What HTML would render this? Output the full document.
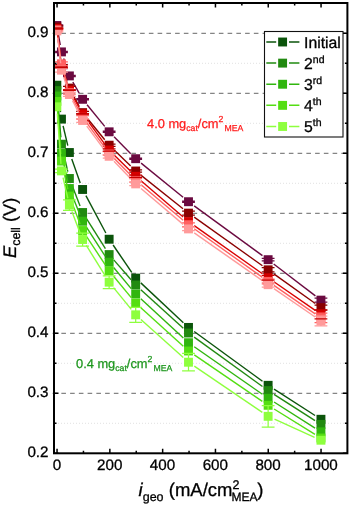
<!DOCTYPE html>
<html><head><meta charset="utf-8"><title>Polarization curves</title>
<style>html,body{margin:0;padding:0;background:#fff}body{width:350px;height:506px;overflow:hidden}</style></head>
<body>
<svg width="350" height="506" viewBox="0 0 350 506" style="display:block" text-rendering="geometricPrecision">
<rect width="350" height="506" fill="#fff"/>
<line x1="52.6" y1="393.3" x2="346.4" y2="393.3" stroke="#858585" stroke-width="1.25" stroke-dasharray="4.6 4.15"/>
<line x1="52.6" y1="333.3" x2="346.4" y2="333.3" stroke="#858585" stroke-width="1.25" stroke-dasharray="4.6 4.15"/>
<line x1="52.6" y1="273.3" x2="346.4" y2="273.3" stroke="#858585" stroke-width="1.25" stroke-dasharray="4.6 4.15"/>
<line x1="52.6" y1="213.3" x2="346.4" y2="213.3" stroke="#858585" stroke-width="1.25" stroke-dasharray="4.6 4.15"/>
<line x1="52.6" y1="153.3" x2="346.4" y2="153.3" stroke="#858585" stroke-width="1.25" stroke-dasharray="4.6 4.15"/>
<line x1="52.6" y1="93.3" x2="346.4" y2="93.3" stroke="#858585" stroke-width="1.25" stroke-dasharray="4.6 4.15"/>
<line x1="52.6" y1="33.3" x2="346.4" y2="33.3" stroke="#858585" stroke-width="1.25" stroke-dasharray="4.6 4.15"/>
<line x1="55.0" y1="423.3" x2="346.4" y2="423.3" stroke="#e2e2e2" stroke-width="1" stroke-dasharray="1 2"/>
<line x1="55.0" y1="363.3" x2="346.4" y2="363.3" stroke="#e2e2e2" stroke-width="1" stroke-dasharray="1 2"/>
<line x1="55.0" y1="303.3" x2="346.4" y2="303.3" stroke="#e2e2e2" stroke-width="1" stroke-dasharray="1 2"/>
<line x1="55.0" y1="243.3" x2="346.4" y2="243.3" stroke="#e2e2e2" stroke-width="1" stroke-dasharray="1 2"/>
<line x1="55.0" y1="183.3" x2="346.4" y2="183.3" stroke="#e2e2e2" stroke-width="1" stroke-dasharray="1 2"/>
<line x1="55.0" y1="123.3" x2="346.4" y2="123.3" stroke="#e2e2e2" stroke-width="1" stroke-dasharray="1 2"/>
<line x1="55.0" y1="63.3" x2="346.4" y2="63.3" stroke="#e2e2e2" stroke-width="1" stroke-dasharray="1 2"/>
<line x1="55.0" y1="3.3" x2="346.4" y2="3.3" stroke="#e2e2e2" stroke-width="1" stroke-dasharray="1 2"/>
<path d="M57.05 453.30v-4.50M57.05 3.00v4.50M83.45 453.30v-2.50M83.45 3.00v2.50M109.85 453.30v-4.50M109.85 3.00v4.50M136.25 453.30v-2.50M136.25 3.00v2.50M162.65 453.30v-4.50M162.65 3.00v4.50M189.05 453.30v-2.50M189.05 3.00v2.50M215.45 453.30v-4.50M215.45 3.00v4.50M241.85 453.30v-2.50M241.85 3.00v2.50M268.25 453.30v-4.50M268.25 3.00v4.50M294.65 453.30v-2.50M294.65 3.00v2.50M321.05 453.30v-4.50M321.05 3.00v4.50M54.00 453.30h4.50M347.40 453.30h-4.50M54.00 423.30h2.50M347.40 423.30h-2.50M54.00 393.30h4.50M347.40 393.30h-4.50M54.00 363.30h2.50M347.40 363.30h-2.50M54.00 333.30h4.50M347.40 333.30h-4.50M54.00 303.30h2.50M347.40 303.30h-2.50M54.00 273.30h4.50M347.40 273.30h-4.50M54.00 243.30h2.50M347.40 243.30h-2.50M54.00 213.30h4.50M347.40 213.30h-4.50M54.00 183.30h2.50M347.40 183.30h-2.50M54.00 153.30h4.50M347.40 153.30h-4.50M54.00 123.30h2.50M347.40 123.30h-2.50M54.00 93.30h4.50M347.40 93.30h-4.50M54.00 63.30h2.50M347.40 63.30h-2.50M54.00 33.30h4.50M347.40 33.30h-4.50" stroke="#000" stroke-width="1.5" fill="none"/>
<defs><clipPath id="pc"><rect x="54.0" y="3.0" width="293.4" height="450.3"/></clipPath></defs><g clip-path="url(#pc)">
<line x1="57.80" y1="92.14" x2="60.53" y2="112.16" stroke="#0b540b" stroke-width="1.40"/>
<line x1="63.09" y1="125.91" x2="67.78" y2="145.71" stroke="#0b540b" stroke-width="1.40"/>
<line x1="71.75" y1="159.11" x2="80.24" y2="182.89" stroke="#0b540b" stroke-width="1.40"/>
<line x1="85.90" y1="195.66" x2="105.85" y2="233.04" stroke="#0b540b" stroke-width="1.40"/>
<line x1="113.09" y1="245.00" x2="131.74" y2="272.32" stroke="#0b540b" stroke-width="1.40"/>
<line x1="140.80" y1="282.88" x2="183.39" y2="322.64" stroke="#0b540b" stroke-width="1.40"/>
<line x1="194.17" y1="331.54" x2="262.47" y2="381.20" stroke="#0b540b" stroke-width="1.40"/>
<line x1="274.02" y1="389.11" x2="315.06" y2="415.49" stroke="#0b540b" stroke-width="1.40"/>
<rect x="52.40" y="80.75" width="8.90" height="8.90" fill="#0b540b"/>
<rect x="57.02" y="114.65" width="8.90" height="8.90" fill="#0b540b"/>
<rect x="64.94" y="148.07" width="8.90" height="8.90" fill="#0b540b"/>
<rect x="78.15" y="185.03" width="8.90" height="8.90" fill="#0b540b"/>
<rect x="104.69" y="234.77" width="8.90" height="8.90" fill="#0b540b"/>
<rect x="131.23" y="273.65" width="8.90" height="8.90" fill="#0b540b"/>
<rect x="184.05" y="322.97" width="8.90" height="8.90" fill="#0b540b"/>
<rect x="263.68" y="380.87" width="8.90" height="8.90" fill="#0b540b"/>
<rect x="316.50" y="414.83" width="8.90" height="8.90" fill="#0b540b"/>
<line x1="57.45" y1="97.57" x2="60.87" y2="137.21" stroke="#218a10" stroke-width="1.40"/>
<line x1="63.05" y1="151.00" x2="67.82" y2="171.68" stroke="#218a10" stroke-width="1.40"/>
<line x1="71.93" y1="185.03" x2="80.07" y2="205.99" stroke="#218a10" stroke-width="1.40"/>
<line x1="86.34" y1="218.44" x2="105.41" y2="248.66" stroke="#218a10" stroke-width="1.40"/>
<line x1="113.74" y1="259.85" x2="131.08" y2="279.73" stroke="#218a10" stroke-width="1.40"/>
<line x1="140.86" y1="289.71" x2="183.32" y2="328.29" stroke="#218a10" stroke-width="1.40"/>
<line x1="194.18" y1="337.10" x2="262.46" y2="386.50" stroke="#218a10" stroke-width="1.40"/>
<line x1="274.03" y1="394.37" x2="315.05" y2="420.61" stroke="#218a10" stroke-width="1.40"/>
<rect x="52.40" y="86.15" width="8.90" height="8.90" fill="#218a10"/>
<rect x="57.02" y="139.73" width="8.90" height="8.90" fill="#218a10"/>
<rect x="64.94" y="174.05" width="8.90" height="8.90" fill="#218a10"/>
<rect x="78.15" y="208.07" width="8.90" height="8.90" fill="#218a10"/>
<rect x="104.69" y="250.13" width="8.90" height="8.90" fill="#218a10"/>
<rect x="131.23" y="280.55" width="8.90" height="8.90" fill="#218a10"/>
<rect x="184.05" y="328.55" width="8.90" height="8.90" fill="#218a10"/>
<rect x="263.68" y="386.15" width="8.90" height="8.90" fill="#218a10"/>
<rect x="316.50" y="419.93" width="8.90" height="8.90" fill="#218a10"/>
<line x1="57.41" y1="102.98" x2="60.91" y2="146.44" stroke="#30b60e" stroke-width="1.40"/>
<line x1="63.01" y1="160.25" x2="67.85" y2="181.69" stroke="#30b60e" stroke-width="1.40"/>
<line x1="72.01" y1="195.01" x2="79.98" y2="214.79" stroke="#30b60e" stroke-width="1.40"/>
<line x1="86.41" y1="227.15" x2="105.33" y2="256.33" stroke="#30b60e" stroke-width="1.40"/>
<line x1="113.63" y1="267.57" x2="131.20" y2="288.63" stroke="#30b60e" stroke-width="1.40"/>
<line x1="140.83" y1="298.75" x2="183.36" y2="337.97" stroke="#30b60e" stroke-width="1.40"/>
<line x1="194.24" y1="346.73" x2="262.39" y2="394.27" stroke="#30b60e" stroke-width="1.40"/>
<line x1="274.04" y1="402.03" x2="315.04" y2="428.07" stroke="#30b60e" stroke-width="1.40"/>
<rect x="52.40" y="91.55" width="8.90" height="8.90" fill="#30b60e"/>
<rect x="57.02" y="148.97" width="8.90" height="8.90" fill="#30b60e"/>
<rect x="64.94" y="184.07" width="8.90" height="8.90" fill="#30b60e"/>
<rect x="78.15" y="216.83" width="8.90" height="8.90" fill="#30b60e"/>
<rect x="104.69" y="257.75" width="8.90" height="8.90" fill="#30b60e"/>
<rect x="131.23" y="289.55" width="8.90" height="8.90" fill="#30b60e"/>
<rect x="184.05" y="338.27" width="8.90" height="8.90" fill="#30b60e"/>
<rect x="263.68" y="393.83" width="8.90" height="8.90" fill="#30b60e"/>
<rect x="316.50" y="427.37" width="8.90" height="8.90" fill="#30b60e"/>
<line x1="57.39" y1="108.38" x2="60.93" y2="154.12" stroke="#54de12" stroke-width="1.40"/>
<line x1="63.02" y1="167.93" x2="67.85" y2="189.25" stroke="#54de12" stroke-width="1.40"/>
<line x1="71.90" y1="202.62" x2="80.09" y2="223.98" stroke="#54de12" stroke-width="1.40"/>
<line x1="86.45" y1="236.36" x2="105.29" y2="264.94" stroke="#54de12" stroke-width="1.40"/>
<line x1="113.59" y1="276.18" x2="131.23" y2="297.60" stroke="#54de12" stroke-width="1.40"/>
<line x1="140.86" y1="307.71" x2="183.32" y2="346.29" stroke="#54de12" stroke-width="1.40"/>
<line x1="194.29" y1="354.94" x2="262.35" y2="401.36" stroke="#54de12" stroke-width="1.40"/>
<line x1="274.08" y1="408.98" x2="315.00" y2="434.32" stroke="#54de12" stroke-width="1.40"/>
<rect x="52.40" y="96.95" width="8.90" height="8.90" fill="#54de12"/>
<rect x="57.02" y="156.65" width="8.90" height="8.90" fill="#54de12"/>
<rect x="64.94" y="191.63" width="8.90" height="8.90" fill="#54de12"/>
<rect x="78.15" y="226.07" width="8.90" height="8.90" fill="#54de12"/>
<rect x="104.69" y="266.33" width="8.90" height="8.90" fill="#54de12"/>
<rect x="131.23" y="298.55" width="8.90" height="8.90" fill="#54de12"/>
<rect x="184.05" y="346.55" width="8.90" height="8.90" fill="#54de12"/>
<rect x="263.68" y="400.85" width="8.90" height="8.90" fill="#54de12"/>
<rect x="316.50" y="433.55" width="8.90" height="8.90" fill="#54de12"/>
<line x1="57.35" y1="113.78" x2="60.97" y2="163.90" stroke="#8eff3e" stroke-width="1.40"/>
<line x1="63.05" y1="177.70" x2="67.81" y2="198.26" stroke="#8eff3e" stroke-width="1.40"/>
<line x1="71.90" y1="211.62" x2="80.09" y2="232.98" stroke="#8eff3e" stroke-width="1.40"/>
<line x1="86.30" y1="245.46" x2="105.44" y2="276.24" stroke="#8eff3e" stroke-width="1.40"/>
<line x1="113.56" y1="287.61" x2="131.27" y2="309.39" stroke="#8eff3e" stroke-width="1.40"/>
<line x1="140.89" y1="319.50" x2="183.29" y2="357.54" stroke="#8eff3e" stroke-width="1.40"/>
<line x1="194.29" y1="366.15" x2="262.34" y2="412.41" stroke="#8eff3e" stroke-width="1.40"/>
<line x1="274.51" y1="419.22" x2="314.57" y2="437.34" stroke="#8eff3e" stroke-width="1.40"/>
<rect x="52.40" y="102.35" width="8.90" height="8.90" fill="#8eff3e"/>
<rect x="57.02" y="166.43" width="8.90" height="8.90" fill="#8eff3e"/>
<rect x="64.94" y="200.63" width="8.90" height="8.90" fill="#8eff3e"/>
<rect x="78.15" y="235.07" width="8.90" height="8.90" fill="#8eff3e"/>
<rect x="104.69" y="277.73" width="8.90" height="8.90" fill="#8eff3e"/>
<rect x="131.23" y="310.37" width="8.90" height="8.90" fill="#8eff3e"/>
<rect x="184.05" y="357.77" width="8.90" height="8.90" fill="#8eff3e"/>
<rect x="263.68" y="411.89" width="8.90" height="8.90" fill="#8eff3e"/>
<rect x="316.50" y="435.77" width="8.90" height="8.90" fill="#8eff3e"/>




<path d="M61.47 169.08V172.68M55.07 169.08H67.87M55.07 172.68H67.87" stroke="#8eff3e" stroke-width="1.25" fill="none"/>
<path d="M69.39 199.80V210.36M62.99 199.80H75.79M62.99 210.36H75.79" stroke="#8eff3e" stroke-width="1.25" fill="none"/>
<path d="M82.60 233.04V246.00M76.20 233.04H89.00M76.20 246.00H89.00" stroke="#8eff3e" stroke-width="1.25" fill="none"/>
<path d="M109.14 275.76V288.60M102.74 275.76H115.54M102.74 288.60H115.54" stroke="#8eff3e" stroke-width="1.25" fill="none"/>
<path d="M135.68 307.32V322.32M129.28 307.32H142.08M129.28 322.32H142.08" stroke="#8eff3e" stroke-width="1.25" fill="none"/>
<path d="M188.50 353.46V370.98M182.10 353.46H194.90M182.10 370.98H194.90" stroke="#8eff3e" stroke-width="1.25" fill="none"/>
<path d="M268.13 405.66V427.02M261.73 405.66H274.53M261.73 427.02H274.53" stroke="#8eff3e" stroke-width="1.25" fill="none"/>
<line x1="58.06" y1="32.40" x2="60.26" y2="45.00" stroke="#6b0a40" stroke-width="1.40"/>
<line x1="63.67" y1="58.55" x2="67.20" y2="69.25" stroke="#6b0a40" stroke-width="1.40"/>
<line x1="72.83" y1="82.00" x2="79.16" y2="93.20" stroke="#6b0a40" stroke-width="1.40"/>
<line x1="87.03" y1="104.72" x2="104.72" y2="126.40" stroke="#6b0a40" stroke-width="1.40"/>
<line x1="114.06" y1="136.80" x2="130.77" y2="153.72" stroke="#6b0a40" stroke-width="1.40"/>
<line x1="141.11" y1="163.12" x2="183.08" y2="197.30" stroke="#6b0a40" stroke-width="1.40"/>
<line x1="194.16" y1="205.84" x2="262.47" y2="255.56" stroke="#6b0a40" stroke-width="1.40"/>
<line x1="273.69" y1="263.94" x2="315.39" y2="295.86" stroke="#6b0a40" stroke-width="1.40"/>
<rect x="52.40" y="21.05" width="8.90" height="8.90" fill="#6b0a40"/>
<rect x="57.02" y="47.45" width="8.90" height="8.90" fill="#6b0a40"/>
<rect x="64.94" y="71.45" width="8.90" height="8.90" fill="#6b0a40"/>
<rect x="78.15" y="94.85" width="8.90" height="8.90" fill="#6b0a40"/>
<rect x="104.69" y="127.37" width="8.90" height="8.90" fill="#6b0a40"/>
<rect x="131.23" y="154.25" width="8.90" height="8.90" fill="#6b0a40"/>
<rect x="184.05" y="197.27" width="8.90" height="8.90" fill="#6b0a40"/>
<rect x="263.68" y="255.23" width="8.90" height="8.90" fill="#6b0a40"/>
<rect x="316.50" y="295.67" width="8.90" height="8.90" fill="#6b0a40"/>
<path d="M56.85 24.90V26.10M50.45 24.90H63.25M50.45 26.10H63.25" stroke="#6b0a40" stroke-width="1.25" fill="none"/>
<path d="M61.47 51.30V52.50M55.07 51.30H67.87M55.07 52.50H67.87" stroke="#6b0a40" stroke-width="1.25" fill="none"/>
<path d="M69.39 75.30V76.50M62.99 75.30H75.79M62.99 76.50H75.79" stroke="#6b0a40" stroke-width="1.25" fill="none"/>
<path d="M82.60 98.70V99.90M76.20 98.70H89.00M76.20 99.90H89.00" stroke="#6b0a40" stroke-width="1.25" fill="none"/>
<path d="M109.14 131.22V132.42M102.74 131.22H115.54M102.74 132.42H115.54" stroke="#6b0a40" stroke-width="1.25" fill="none"/>
<path d="M135.68 158.10V159.30M129.28 158.10H142.08M129.28 159.30H142.08" stroke="#6b0a40" stroke-width="1.25" fill="none"/>
<path d="M188.50 201.12V202.32M182.10 201.12H194.90M182.10 202.32H194.90" stroke="#6b0a40" stroke-width="1.25" fill="none"/>
<path d="M268.13 258.48V260.88M261.73 258.48H274.53M261.73 260.88H274.53" stroke="#6b0a40" stroke-width="1.25" fill="none"/>
<path d="M320.95 298.02V302.22M314.55 298.02H327.35M314.55 302.22H327.35" stroke="#6b0a40" stroke-width="1.25" fill="none"/>
<line x1="57.67" y1="33.95" x2="60.65" y2="59.35" stroke="#8b0000" stroke-width="1.40"/>
<line x1="63.86" y1="72.88" x2="67.00" y2="81.50" stroke="#8b0000" stroke-width="1.40"/>
<line x1="72.71" y1="94.24" x2="79.28" y2="106.46" stroke="#8b0000" stroke-width="1.40"/>
<line x1="87.02" y1="118.05" x2="104.72" y2="139.77" stroke="#8b0000" stroke-width="1.40"/>
<line x1="114.16" y1="150.08" x2="130.66" y2="166.12" stroke="#8b0000" stroke-width="1.40"/>
<line x1="141.16" y1="175.36" x2="183.03" y2="208.76" stroke="#8b0000" stroke-width="1.40"/>
<line x1="194.21" y1="217.18" x2="262.43" y2="265.76" stroke="#8b0000" stroke-width="1.40"/>
<line x1="273.82" y1="273.89" x2="315.26" y2="303.55" stroke="#8b0000" stroke-width="1.40"/>
<rect x="52.40" y="22.55" width="8.90" height="8.90" fill="#8b0000"/>
<rect x="57.02" y="61.85" width="8.90" height="8.90" fill="#8b0000"/>
<rect x="64.94" y="83.63" width="8.90" height="8.90" fill="#8b0000"/>
<rect x="78.15" y="108.17" width="8.90" height="8.90" fill="#8b0000"/>
<rect x="104.69" y="140.75" width="8.90" height="8.90" fill="#8b0000"/>
<rect x="131.23" y="166.55" width="8.90" height="8.90" fill="#8b0000"/>
<rect x="184.05" y="208.67" width="8.90" height="8.90" fill="#8b0000"/>
<rect x="263.68" y="265.37" width="8.90" height="8.90" fill="#8b0000"/>
<rect x="316.50" y="303.17" width="8.90" height="8.90" fill="#8b0000"/>
<path d="M56.85 25.80V28.20M50.45 25.80H63.25M50.45 28.20H63.25" stroke="#8b0000" stroke-width="1.25" fill="none"/>
<path d="M61.47 64.50V68.10M55.07 64.50H67.87M55.07 68.10H67.87" stroke="#8b0000" stroke-width="1.25" fill="none"/>
<path d="M69.39 86.28V89.88M62.99 86.28H75.79M62.99 89.88H75.79" stroke="#8b0000" stroke-width="1.25" fill="none"/>
<path d="M82.60 111.42V113.82M76.20 111.42H89.00M76.20 113.82H89.00" stroke="#8b0000" stroke-width="1.25" fill="none"/>
<path d="M109.14 144.00V146.40M102.74 144.00H115.54M102.74 146.40H115.54" stroke="#8b0000" stroke-width="1.25" fill="none"/>
<path d="M135.68 169.80V172.20M129.28 169.80H142.08M129.28 172.20H142.08" stroke="#8b0000" stroke-width="1.25" fill="none"/>
<path d="M188.50 211.02V215.22M182.10 211.02H194.90M182.10 215.22H194.90" stroke="#8b0000" stroke-width="1.25" fill="none"/>
<path d="M268.13 267.72V271.92M261.73 267.72H274.53M261.73 271.92H274.53" stroke="#8b0000" stroke-width="1.25" fill="none"/>
<path d="M320.95 305.22V310.02M314.55 305.22H327.35M314.55 310.02H327.35" stroke="#8b0000" stroke-width="1.25" fill="none"/>
<line x1="57.68" y1="35.45" x2="60.64" y2="60.25" stroke="#d80000" stroke-width="1.40"/>
<line x1="63.76" y1="73.82" x2="67.11" y2="83.50" stroke="#d80000" stroke-width="1.40"/>
<line x1="72.80" y1="96.23" x2="79.19" y2="107.71" stroke="#d80000" stroke-width="1.40"/>
<line x1="86.74" y1="119.46" x2="105.00" y2="144.36" stroke="#d80000" stroke-width="1.40"/>
<line x1="114.12" y1="154.93" x2="130.71" y2="171.35" stroke="#d80000" stroke-width="1.40"/>
<line x1="141.00" y1="180.84" x2="183.19" y2="217.02" stroke="#d80000" stroke-width="1.40"/>
<line x1="194.22" y1="225.62" x2="262.41" y2="273.76" stroke="#d80000" stroke-width="1.40"/>
<line x1="273.89" y1="281.78" x2="315.19" y2="310.30" stroke="#d80000" stroke-width="1.40"/>
<rect x="52.40" y="24.05" width="8.90" height="8.90" fill="#d80000"/>
<rect x="57.02" y="62.75" width="8.90" height="8.90" fill="#d80000"/>
<rect x="64.94" y="85.67" width="8.90" height="8.90" fill="#d80000"/>
<rect x="78.15" y="109.37" width="8.90" height="8.90" fill="#d80000"/>
<rect x="104.69" y="145.55" width="8.90" height="8.90" fill="#d80000"/>
<rect x="131.23" y="171.83" width="8.90" height="8.90" fill="#d80000"/>
<rect x="184.05" y="217.13" width="8.90" height="8.90" fill="#d80000"/>
<rect x="263.68" y="273.35" width="8.90" height="8.90" fill="#d80000"/>
<rect x="316.50" y="309.83" width="8.90" height="8.90" fill="#d80000"/>
<line x1="57.79" y1="36.64" x2="60.53" y2="56.84" stroke="#ff6060" stroke-width="1.40"/>
<line x1="63.34" y1="70.53" x2="67.53" y2="85.65" stroke="#ff6060" stroke-width="1.40"/>
<line x1="72.67" y1="98.58" x2="79.32" y2="111.12" stroke="#ff6060" stroke-width="1.40"/>
<line x1="86.75" y1="122.93" x2="104.99" y2="147.67" stroke="#ff6060" stroke-width="1.40"/>
<line x1="114.05" y1="158.29" x2="130.78" y2="175.31" stroke="#ff6060" stroke-width="1.40"/>
<line x1="141.04" y1="184.80" x2="183.15" y2="220.20" stroke="#ff6060" stroke-width="1.40"/>
<line x1="194.21" y1="228.76" x2="262.43" y2="277.34" stroke="#ff6060" stroke-width="1.40"/>
<line x1="273.89" y1="285.37" x2="315.19" y2="313.85" stroke="#ff6060" stroke-width="1.40"/>
<rect x="52.40" y="25.25" width="8.90" height="8.90" fill="#ff6060"/>
<rect x="57.02" y="59.33" width="8.90" height="8.90" fill="#ff6060"/>
<rect x="64.94" y="87.95" width="8.90" height="8.90" fill="#ff6060"/>
<rect x="78.15" y="112.85" width="8.90" height="8.90" fill="#ff6060"/>
<rect x="104.69" y="148.85" width="8.90" height="8.90" fill="#ff6060"/>
<rect x="131.23" y="175.85" width="8.90" height="8.90" fill="#ff6060"/>
<rect x="184.05" y="220.25" width="8.90" height="8.90" fill="#ff6060"/>
<rect x="263.68" y="276.95" width="8.90" height="8.90" fill="#ff6060"/>
<rect x="316.50" y="313.37" width="8.90" height="8.90" fill="#ff6060"/>
<path d="M56.85 28.50V30.90M50.45 28.50H63.25M50.45 30.90H63.25" stroke="#ff6060" stroke-width="1.25" fill="none"/>
<path d="M61.47 61.98V65.58M55.07 61.98H67.87M55.07 65.58H67.87" stroke="#ff6060" stroke-width="1.25" fill="none"/>
<path d="M69.39 90.60V94.20M62.99 90.60H75.79M62.99 94.20H75.79" stroke="#ff6060" stroke-width="1.25" fill="none"/>
<path d="M82.60 115.50V119.10M76.20 115.50H89.00M76.20 119.10H89.00" stroke="#ff6060" stroke-width="1.25" fill="none"/>
<path d="M109.14 151.50V155.10M102.74 151.50H115.54M102.74 155.10H115.54" stroke="#ff6060" stroke-width="1.25" fill="none"/>
<path d="M135.68 178.50V182.10M129.28 178.50H142.08M129.28 182.10H142.08" stroke="#ff6060" stroke-width="1.25" fill="none"/>
<path d="M188.50 222.90V226.50M182.10 222.90H194.90M182.10 226.50H194.90" stroke="#ff6060" stroke-width="1.25" fill="none"/>
<path d="M268.13 279.00V283.80M261.73 279.00H274.53M261.73 283.80H274.53" stroke="#ff6060" stroke-width="1.25" fill="none"/>
<path d="M320.95 313.02V322.62M314.55 313.02H327.35M314.55 322.62H327.35" stroke="#ff6060" stroke-width="1.25" fill="none"/>
<line x1="57.67" y1="37.85" x2="60.65" y2="63.25" stroke="#ff9a9a" stroke-width="1.40"/>
<line x1="63.64" y1="76.86" x2="67.22" y2="87.84" stroke="#ff9a9a" stroke-width="1.40"/>
<line x1="72.57" y1="100.74" x2="79.43" y2="114.24" stroke="#ff9a9a" stroke-width="1.40"/>
<line x1="86.77" y1="126.10" x2="104.97" y2="150.68" stroke="#ff9a9a" stroke-width="1.40"/>
<line x1="113.99" y1="161.35" x2="130.83" y2="178.85" stroke="#ff9a9a" stroke-width="1.40"/>
<line x1="141.01" y1="188.44" x2="183.18" y2="224.36" stroke="#ff9a9a" stroke-width="1.40"/>
<line x1="194.24" y1="232.92" x2="262.40" y2="280.68" stroke="#ff9a9a" stroke-width="1.40"/>
<line x1="273.90" y1="288.66" x2="315.18" y2="317.04" stroke="#ff9a9a" stroke-width="1.40"/>
<rect x="52.40" y="26.45" width="8.90" height="8.90" fill="#ff9a9a"/>
<rect x="57.02" y="65.75" width="8.90" height="8.90" fill="#ff9a9a"/>
<rect x="64.94" y="90.05" width="8.90" height="8.90" fill="#ff9a9a"/>
<rect x="78.15" y="116.03" width="8.90" height="8.90" fill="#ff9a9a"/>
<rect x="104.69" y="151.85" width="8.90" height="8.90" fill="#ff9a9a"/>
<rect x="131.23" y="179.45" width="8.90" height="8.90" fill="#ff9a9a"/>
<rect x="184.05" y="224.45" width="8.90" height="8.90" fill="#ff9a9a"/>
<rect x="263.68" y="280.25" width="8.90" height="8.90" fill="#ff9a9a"/>
<rect x="316.50" y="316.55" width="8.90" height="8.90" fill="#ff9a9a"/>
<path d="M56.85 29.70V32.10M50.45 29.70H63.25M50.45 32.10H63.25" stroke="#ff9a9a" stroke-width="1.25" fill="none"/>
<path d="M61.47 68.40V72.00M55.07 68.40H67.87M55.07 72.00H67.87" stroke="#ff9a9a" stroke-width="1.25" fill="none"/>
<path d="M69.39 92.70V96.30M62.99 92.70H75.79M62.99 96.30H75.79" stroke="#ff9a9a" stroke-width="1.25" fill="none"/>
<path d="M82.60 118.68V122.28M76.20 118.68H89.00M76.20 122.28H89.00" stroke="#ff9a9a" stroke-width="1.25" fill="none"/>
<path d="M109.14 154.50V158.10M102.74 154.50H115.54M102.74 158.10H115.54" stroke="#ff9a9a" stroke-width="1.25" fill="none"/>
<path d="M135.68 182.10V185.70M129.28 182.10H142.08M129.28 185.70H142.08" stroke="#ff9a9a" stroke-width="1.25" fill="none"/>
<path d="M188.50 227.10V230.70M182.10 227.10H194.90M182.10 230.70H194.90" stroke="#ff9a9a" stroke-width="1.25" fill="none"/>
<path d="M268.13 282.30V287.10M261.73 282.30H274.53M261.73 287.10H274.53" stroke="#ff9a9a" stroke-width="1.25" fill="none"/>
<path d="M320.95 316.20V325.80M314.55 316.20H327.35M314.55 325.80H327.35" stroke="#ff9a9a" stroke-width="1.25" fill="none"/>
<path d="M50.45 27.90H63.25M50.45 29.10H63.25" stroke="#c80000" stroke-width="1.25" fill="none"/>
<path d="M55.07 66.90H67.87M55.07 67.50H67.87" stroke="#c80000" stroke-width="1.25" fill="none"/>
<path d="M62.99 89.82H75.79M62.99 90.42H75.79" stroke="#c80000" stroke-width="1.25" fill="none"/>
<path d="M76.20 113.52H89.00M76.20 114.12H89.00" stroke="#c80000" stroke-width="1.25" fill="none"/>
<path d="M102.74 148.80H115.54M102.74 151.20H115.54" stroke="#c80000" stroke-width="1.25" fill="none"/>
<path d="M129.28 175.08H142.08M129.28 177.48H142.08" stroke="#c80000" stroke-width="1.25" fill="none"/>
<path d="M261.73 275.40H274.53M261.73 280.20H274.53" stroke="#c80000" stroke-width="1.25" fill="none"/>
<path d="M314.55 309.78H327.35M314.55 318.78H327.35" stroke="#c80000" stroke-width="1.25" fill="none"/>
</g>
<rect x="54.0" y="3.0" width="293.4" height="450.3" fill="none" stroke="#000" stroke-width="2"/>
<text x="48.5" y="457.2" font-family="Liberation Sans, Arial, sans-serif" stroke="#000" stroke-width="0.3" font-size="15.2" text-anchor="end" fill="#000">0.2</text>
<text x="48.5" y="397.2" font-family="Liberation Sans, Arial, sans-serif" stroke="#000" stroke-width="0.3" font-size="15.2" text-anchor="end" fill="#000">0.3</text>
<text x="48.5" y="337.2" font-family="Liberation Sans, Arial, sans-serif" stroke="#000" stroke-width="0.3" font-size="15.2" text-anchor="end" fill="#000">0.4</text>
<text x="48.5" y="277.2" font-family="Liberation Sans, Arial, sans-serif" stroke="#000" stroke-width="0.3" font-size="15.2" text-anchor="end" fill="#000">0.5</text>
<text x="48.5" y="217.2" font-family="Liberation Sans, Arial, sans-serif" stroke="#000" stroke-width="0.3" font-size="15.2" text-anchor="end" fill="#000">0.6</text>
<text x="48.5" y="157.2" font-family="Liberation Sans, Arial, sans-serif" stroke="#000" stroke-width="0.3" font-size="15.2" text-anchor="end" fill="#000">0.7</text>
<text x="48.5" y="97.2" font-family="Liberation Sans, Arial, sans-serif" stroke="#000" stroke-width="0.3" font-size="15.2" text-anchor="end" fill="#000">0.8</text>
<text x="48.5" y="37.2" font-family="Liberation Sans, Arial, sans-serif" stroke="#000" stroke-width="0.3" font-size="15.2" text-anchor="end" fill="#000">0.9</text>
<text x="56.9" y="470.3" font-family="Liberation Sans, Arial, sans-serif" stroke="#000" stroke-width="0.3" font-size="15.2" text-anchor="middle" fill="#000">0</text>
<text x="109.7" y="470.3" font-family="Liberation Sans, Arial, sans-serif" stroke="#000" stroke-width="0.3" font-size="15.2" text-anchor="middle" fill="#000">200</text>
<text x="162.5" y="470.3" font-family="Liberation Sans, Arial, sans-serif" stroke="#000" stroke-width="0.3" font-size="15.2" text-anchor="middle" fill="#000">400</text>
<text x="215.3" y="470.3" font-family="Liberation Sans, Arial, sans-serif" stroke="#000" stroke-width="0.3" font-size="15.2" text-anchor="middle" fill="#000">600</text>
<text x="268.1" y="470.3" font-family="Liberation Sans, Arial, sans-serif" stroke="#000" stroke-width="0.3" font-size="15.2" text-anchor="middle" fill="#000">800</text>
<text x="320.9" y="470.3" font-family="Liberation Sans, Arial, sans-serif" stroke="#000" stroke-width="0.3" font-size="15.2" text-anchor="middle" fill="#000">1000</text>
<text transform="translate(15.6,258) rotate(-90)" font-family="Liberation Sans, Arial, sans-serif" stroke="#000" stroke-width="0.3" font-size="18.2" fill="#000"><tspan font-style="italic">E</tspan><tspan font-size="12.5" dy="4.3">cell</tspan><tspan dy="-4.3"> (V)</tspan></text>
<text x="138.6" y="496.4" font-family="Liberation Sans, Arial, sans-serif" stroke="#000" stroke-width="0.3" font-size="18.5" fill="#000"><tspan font-style="italic">i</tspan><tspan font-size="12.5" dy="4.5">geo</tspan><tspan dy="-4.5"> (mA/cm</tspan><tspan font-size="12.5" dy="-7.4">2</tspan></text>
<text x="231.6" y="500.7" font-family="Liberation Sans, Arial, sans-serif" stroke="#000" stroke-width="0.3" font-size="12" fill="#000">MEA</text>
<text x="257.2" y="496.4" font-family="Liberation Sans, Arial, sans-serif" stroke="#000" stroke-width="0.3" font-size="18.5" fill="#000">)</text>
<text x="147.0" y="127.6" font-family="Liberation Sans, Arial, sans-serif" stroke="#000" stroke-width="0.3" font-size="12.85" fill="#ff1a1a" style="stroke:#ff1a1a;stroke-width:0.25">4.0 mg<tspan font-size="8.7" dy="3.4">cat</tspan><tspan dy="-3.4">/cm</tspan><tspan font-size="8.7" dy="-5.2">2</tspan><tspan font-size="8.7" dy="8.6" dx="1">MEA</tspan></text>
<text x="76.0" y="367.5" font-family="Liberation Sans, Arial, sans-serif" stroke="#000" stroke-width="0.3" font-size="12.85" fill="#1c961c" style="stroke:#1c961c;stroke-width:0.25">0.4 mg<tspan font-size="8.7" dy="3.4">cat</tspan><tspan dy="-3.4">/cm</tspan><tspan font-size="8.7" dy="-5.2">2</tspan><tspan font-size="8.7" dy="8.6" dx="1">MEA</tspan></text>
<rect x="264.5" y="31.5" width="78.5" height="105.5" fill="#fff" stroke="#111" stroke-width="1.1"/>
<path d="M266.3 42.00H276.2M289 42.00H299.4" stroke="#0b540b" stroke-width="1.5"/>
<rect x="278.15" y="37.55" width="8.9" height="8.9" fill="#0b540b"/>
<text x="304" y="47.6" font-family="Liberation Sans, Arial, sans-serif" stroke="#000" stroke-width="0.3" font-size="15.8" fill="#000">Initial</text>
<path d="M266.3 63.12H276.2M289 63.12H299.4" stroke="#218a10" stroke-width="1.5"/>
<rect x="278.15" y="58.67" width="8.9" height="8.9" fill="#218a10"/>
<text x="304" y="68.7" font-family="Liberation Sans, Arial, sans-serif" stroke="#000" stroke-width="0.3" font-size="15.8" fill="#000">2<tspan font-size="10.5" dy="-6">nd</tspan></text>
<path d="M266.3 84.24H276.2M289 84.24H299.4" stroke="#30b60e" stroke-width="1.5"/>
<rect x="278.15" y="79.79" width="8.9" height="8.9" fill="#30b60e"/>
<text x="304" y="89.8" font-family="Liberation Sans, Arial, sans-serif" stroke="#000" stroke-width="0.3" font-size="15.8" fill="#000">3<tspan font-size="10.5" dy="-6">rd</tspan></text>
<path d="M266.3 105.36H276.2M289 105.36H299.4" stroke="#54de12" stroke-width="1.5"/>
<rect x="278.15" y="100.91" width="8.9" height="8.9" fill="#54de12"/>
<text x="304" y="111.0" font-family="Liberation Sans, Arial, sans-serif" stroke="#000" stroke-width="0.3" font-size="15.8" fill="#000">4<tspan font-size="10.5" dy="-6">th</tspan></text>
<path d="M266.3 126.48H276.2M289 126.48H299.4" stroke="#8eff3e" stroke-width="1.5"/>
<rect x="278.15" y="122.03" width="8.9" height="8.9" fill="#8eff3e"/>
<text x="304" y="132.1" font-family="Liberation Sans, Arial, sans-serif" stroke="#000" stroke-width="0.3" font-size="15.8" fill="#000">5<tspan font-size="10.5" dy="-6">th</tspan></text>
</svg>
</body></html>
